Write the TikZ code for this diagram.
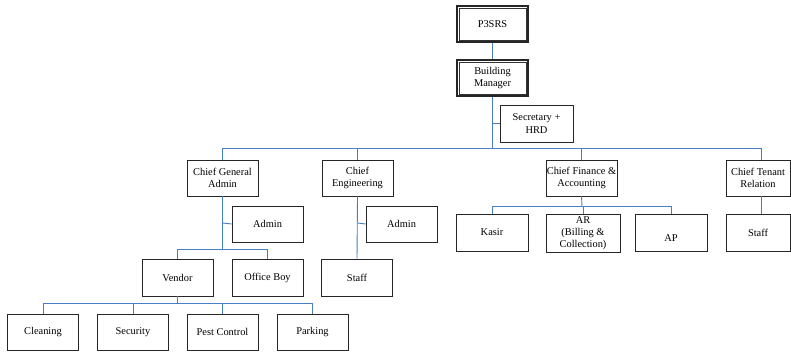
\documentclass[tikz,border=0pt]{standalone}
\usepackage{fontspec}
\setmainfont{Liberation Serif}
\begin{document}
\begin{tikzpicture}[x=1pt,y=-1pt,
  box/.style={draw=black!85, line width=0.6pt, fill=white, rectangle,
    minimum width=71pt, minimum height=36pt, inner sep=1pt, align=center,
    font=\fontsize{10.4}{12.3}\selectfont},
  topbox/.style={box, line width=1.2pt},
  inner frame/.style={draw=black!80, line width=0.6pt},
  label text/.style={inner sep=0pt, font=\fontsize{10.4}{12.3}\selectfont},
  link/.style={draw={rgb,255:red,74;green,126;blue,196}, line width=0.9pt}]
\useasboundingbox (0,0) rectangle (791,351);

% head of the organisation (boxes with a double frame)
\node[topbox] (p3srs) at (492.5,24) {P3SRS};
\node[topbox] (bm) at (492.5,78) {Building\\Manager};
\foreach \n in {p3srs,bm}
  \draw[inner frame] ([shift={(2.7pt,-2.7pt)}]\n.north west) rectangle ([shift={(-2.7pt,2.7pt)}]\n.south east);
\node[box, minimum width=73pt, minimum height=37pt] (sec) at (536.5,123.5) {Secretary +\\HRD};

% department heads
\node[box] (cga) at (222.5,178) {Chief General\\Admin};
\node[box] (ce) at (357.5,178) {Chief\\Engineering};
\node[box] (cfa) at (581.5,178) {Chief Finance \&\\Accounting};
\node[box, minimum width=64pt] (ctr) at (758,178) {Chief Tenant\\Relation};

% general admin branch
\node[box] (adm1) at (267.5,224) {Admin};
\node[box, minimum height=37pt] (vendor) at (177.5,277.5) {Vendor};
\node[box, minimum height=37pt] (oboy) at (267.5,277.5) {Office Boy};
\node[box] (clean) at (43,332) {Cleaning};
\node[box] (secu) at (133,332) {Security};
\node[box] (pest) at (222.5,332) {Pest Control};
\node[box] (park) at (312.5,332) {Parking};

% engineering branch
\node[box] (adm2) at (401.5,224) {Admin};
\node[box, minimum height=37pt] (staffe) at (357,277.5) {Staff};

% finance branch
\node[box, minimum width=72pt, minimum height=37pt] (kasir) at (492,232.5) {Kasir};
\node[box, minimum width=74pt, minimum height=38pt] (ar) at (583,233) {AR\\(Billing \&\\Collection)};
\node[box, minimum width=72pt, minimum height=37pt] (ap) at (671,232.5) {};
\node[label text] (aptext) at (671,238) {AP};

% tenant relation branch
\node[box, minimum width=64pt, minimum height=37pt] (stafft) at (758,232.5) {Staff};

% junction points of the connectors
\coordinate (j0) at (492.5,148);
\coordinate (jsec) at (492.5,123.5);
\coordinate (jga) at (222.5,249);
\coordinate (jadm1) at (222.5,223);
\coordinate (jeng) at (357.5,223);
\coordinate (jfin) at (582,206.5);
\coordinate (jven) at (177.5,303);

% connectors
\path[link] (p3srs) -- (bm);
\path[link] (bm.south) -- (j0);
\path[link] (jsec) -- (sec.west);
\path[link] (j0) -| (cga.north);
\path[link] (j0) -| (ce.north);
\path[link] (j0) -| (cfa.north);
\path[link] (j0) -| ([xshift=3pt]ctr.north);

\path[link] (cga.south) -- (jga);
\path[link] (jadm1) -- (adm1.west);
\path[link] (jga) -| (vendor.north);
\path[link] (jga) -| (oboy.north);
\path[link] (vendor.south) -- (jven);
\path[link] (jven) -| (clean.north);
\path[link] (jven) -| (secu.north);
\path[link] (jven) -| (pest.north);
\path[link] (jven) -| (park.north);

\path[link] (ce.south) -- (staffe.north);
\path[link] (jeng) -- (adm2.west);

\path[link] (cfa.south) -- (jfin);
\path[link] (jfin) -| (kasir.north);
\path[link] (jfin) -| (ar.north);
\path[link] (jfin) -| (ap.north);

\path[link] ([xshift=3pt]ctr.south) -- ([xshift=3pt]stafft.north);
\end{tikzpicture}
\end{document}
